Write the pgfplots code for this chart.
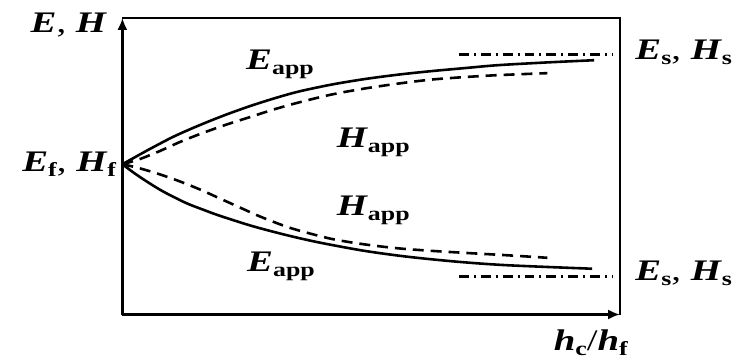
\documentclass[border=0pt]{standalone}
\usepackage{fontspec}
\setmainfont{Liberation Serif}
\usepackage{graphicx}
\usepackage{pgfplots}
\pgfplotsset{compat=1.18}
\usetikzlibrary{arrows.meta}

% bold italic symbol with upright bold subscript, stretched like the original
\newcommand{\lab}[2]{\textbf{\textit{#1}}\raisebox{-2.5pt}{\fontsize{10}{12}\selectfont\bfseries #2}}
\newcommand{\wide}[1]{\scalebox{1.3}[1]{#1}}
\newcommand{\labfont}{\fontsize{15}{18}\selectfont}

\begin{document}
\begin{tikzpicture}
\begin{axis}[
  x=0.5pt, y=0.5pt,
  xmin=123, xmax=623, ymin=49, ymax=347,
  axis lines=left,
  axis line style={line width=1.1pt, -{Latex[length=6pt,width=5pt]}},
  xtick=\empty, ytick=\empty,
  clip=false,
]
% E_app, upper
\addplot[black, line width=1.3pt, smooth] coordinates {
  (123,200) (150,215) (175,228) (200,239) (225,249) (250,258) (275,266) (300,273)
  (333,280) (366,285.5) (400,290) (433,293.5) (466,296.5) (500,299.5) (550,302.3) (597,304.5)
};
% H_app, upper
\addplot[black, line width=1.3pt, smooth, dash pattern=on 5.5pt off 3.5pt] coordinates {
  (123,200) (140,205) (160,213) (180,222) (200,230) (225,239) (250,247) (275,255)
  (300,262) (333,270) (366,276) (400,281) (433,285) (466,287.5) (500,289.5) (550,291.5)
};
% E_app, lower
\addplot[black, line width=1.3pt, smooth] coordinates {
  (123,200) (135,191) (150,181) (165,172) (187,161) (205,154) (220,148.5) (253,138)
  (287,129) (320,121.5) (366,113) (410,107) (460,102) (510,98.5) (595,95)
};
% H_app, lower
\addplot[black, line width=1.3pt, smooth, dash pattern=on 5.5pt off 3.5pt] coordinates {
  (123,200) (140,196) (160,190) (180,183) (200,175) (220,166) (240,157) (260,148)
  (283,139) (300,133.5) (333,125) (366,119.5) (400,115.5) (433,113) (466,111) (510,108.5) (550,106)
};
% saturation levels
\addplot[black, line width=1.3pt, dash pattern=on 5pt off 2.5pt on 1pt off 2.5pt] coordinates {(461,310) (616,310)};
\addplot[black, line width=1.3pt, dash pattern=on 5pt off 2.5pt on 1pt off 2.5pt] coordinates {(461,87) (616,87)};

% frame, top and right
\draw[line width=1.1pt] (axis cs:123,347) -- (axis cs:623,347) -- (axis cs:623,49);

\path (axis cs:0,0) rectangle (axis cs:732,365);

\node[anchor=base east, font=\labfont, inner sep=0pt] at (axis cs:108,332) {\wide{\textbf{\textit{E}}, \textbf{\textit{H}}}};
\node[anchor=base east, font=\labfont, inner sep=0pt] at (axis cs:117,193) {\wide{\lab{E}{f}, \lab{H}{f}}};
\node[anchor=base west, font=\labfont, inner sep=0pt] at (axis cs:247,295) {\wide{\lab{E}{app}}};
\node[anchor=base west, font=\labfont, inner sep=0pt] at (axis cs:338,217) {\wide{\lab{H}{app}}};
\node[anchor=base west, font=\labfont, inner sep=0pt] at (axis cs:338,148) {\wide{\lab{H}{app}}};
\node[anchor=base west, font=\labfont, inner sep=0pt] at (axis cs:248,92) {\wide{\lab{E}{app}}};
\node[anchor=base west, font=\labfont, inner sep=0pt] at (axis cs:638,305) {\wide{\lab{E}{s}, \lab{H}{s}}};
\node[anchor=base west, font=\labfont, inner sep=0pt] at (axis cs:638,83) {\wide{\lab{E}{s}, \lab{H}{s}}};
\node[anchor=base west, font=\labfont, inner sep=0pt] at (axis cs:556,13) {\wide{\lab{h}{c}/\lab{h}{f}}};
\end{axis}
\end{tikzpicture}
\end{document}
